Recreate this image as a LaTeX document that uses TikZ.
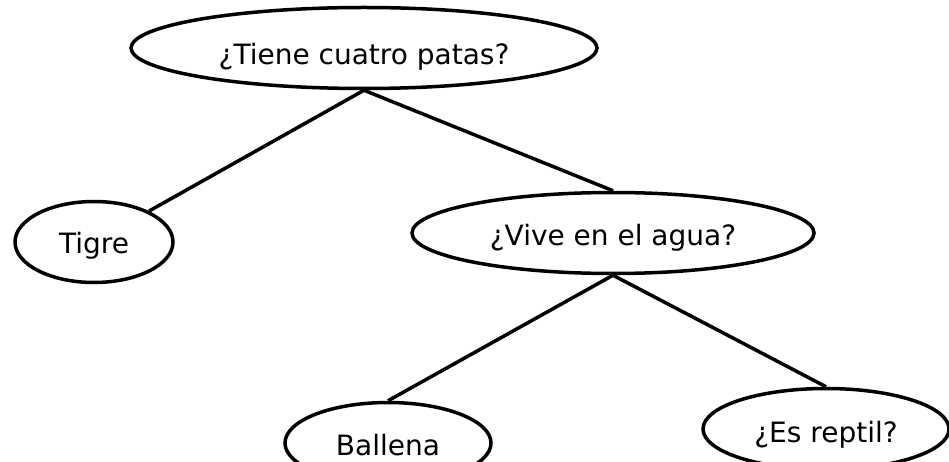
\documentclass[tikz,border=0pt]{standalone}
\usepackage{fontspec}
\setmainfont{DejaVu Sans}
\usetikzlibrary{shapes.geometric}
\begin{document}
\begin{tikzpicture}[x=1pt,y=-1pt,line width=3.5pt,
	pregunta/.style={draw,ellipse,inner sep=0pt,minimum height=81pt,text height=30pt,text depth=6pt,font=\fontsize{28}{32}\selectfont}]
	\useasboundingbox (0,0) rectangle (949,462);
	\clip (0,0) rectangle (949,462);
	\node[pregunta,minimum width=466pt,text height=40pt] (v1) at (364,48) {¿Tiene cuatro patas?};
	\node[pregunta,minimum width=158pt,text height=28pt] (v2) at (94,242) {Tigre};
	\node[pregunta,minimum width=402pt] (v3) at (613,233) {¿Vive en el agua?};
	\node[pregunta,minimum width=206pt] (v4) at (388,443) {Ballena};
	\node[pregunta,minimum width=246pt,text height=32pt] (v5) at (826,429) {¿Es reptil?};
	\draw (v1.south) -- (v2);
	\draw (v1.south) -- (v3.north);
	\draw (v3.south) -- (v4.north);
	\draw (v3.south) -- (v5.north);
\end{tikzpicture}
\end{document}
